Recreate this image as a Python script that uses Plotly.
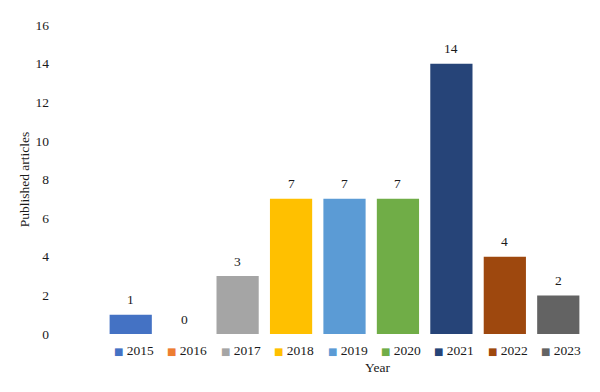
import plotly.graph_objects as go

years = ["2015", "2016", "2017", "2018", "2019", "2020", "2021", "2022", "2023"]
articles = [1, 0, 3, 7, 7, 7, 14, 4, 2]
colors = ["#4472C4", "#ED7D31", "#A5A5A5", "#FFC000", "#5B9BD5",
          "#70AD47", "#264478", "#9E480E", "#636363"]
y_ticks = [0, 2, 4, 6, 8, 10, 12, 14, 16]

font_family = "Liberation Serif"
txt_color = "#1a1a1a"
fs = 13.5

fig = go.Figure()
for i, (yr, val, col) in enumerate(zip(years, articles, colors)):
    fig.add_trace(go.Bar(
        x=[yr], y=[val], name=yr,
        marker=dict(color=col, line=dict(width=0)),
        showlegend=False,
    ))
    # value label above bar (category index i)
    fig.add_annotation(x=i, y=val, xref="x", yref="y", text=str(val),
                       showarrow=False, yanchor="middle", yshift=15,
                       font=dict(family=font_family, size=fs, color=txt_color))
    # legend entry below bar
    fig.add_annotation(x=i, y=0, xref="x", yref="y",
                       text=f"<span style='color:{col};font-family:DejaVu Sans;font-size:10px'>■</span> {yr}",
                       showarrow=False, xanchor="left", yanchor="middle",
                       xshift=-19, yshift=-16,
                       font=dict(family=font_family, size=fs, color=txt_color))

fig.add_annotation(x=0.568, y=-0.107, xref="paper", yref="paper", text="Year",
                   showarrow=False, xanchor="center", yanchor="middle",
                   font=dict(family=font_family, size=fs, color=txt_color))

fig.update_layout(
    width=600, height=392,
    margin=dict(l=96, r=23, t=17, b=66, autoexpand=False),
    paper_bgcolor="white", plot_bgcolor="white",
    barmode="relative", bargap=0.21,
    font=dict(family=font_family, size=fs, color=txt_color),
    showlegend=False,
    xaxis=dict(type="category", categoryorder="array", categoryarray=years,
               range=[-0.5, len(years) - 0.5], automargin=False,
               showticklabels=False, showline=False, showgrid=False, zeroline=False,
               ticks=""),
    yaxis=dict(range=[0, 16], tickvals=y_ticks, showline=False, showgrid=False,
               zeroline=False, ticks="", ticklabelstandoff=54, automargin=False,
               tickfont=dict(family=font_family, size=fs, color=txt_color),
               title=dict(text="Published articles", standoff=2,
                          font=dict(family=font_family, size=fs, color=txt_color))),
)

fig.write_html("out.html")
